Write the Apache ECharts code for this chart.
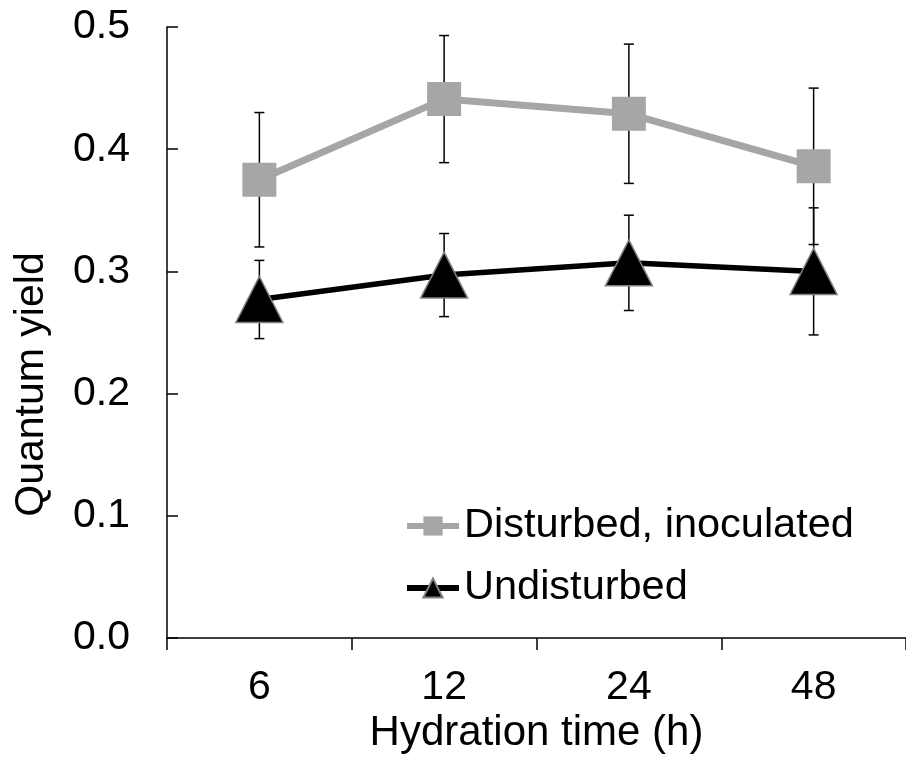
<!DOCTYPE html>
<html>
<head>
<meta charset="utf-8">
<script src="https://cdn.jsdelivr.net/npm/echarts@6/dist/echarts.min.js"></script>
<style>
html,body{margin:0;padding:0;background:#fff;}
#chart{width:906px;height:766px;}
</style>
</head>
<body>
<div id="chart"></div>
<script>
// Data
var categories = ['6', '12', '24', '48'];
var disturbedMean = [0.375, 0.441, 0.429, 0.386];
var disturbedErr = [0.055, 0.052, 0.057, 0.064];
var undisturbedMean = [0.277, 0.297, 0.307, 0.300];
var undisturbedErr = [0.032, 0.034, 0.039, 0.052];
var seriesNames = ['Disturbed, inoculated', 'Undisturbed'];
var yTicks = [0, 0.1, 0.2, 0.3, 0.4, 0.5];

var FONT = "'Liberation Sans', Arial, sans-serif";
var GRAY = '#a6a6a6';

function errData(mean, err) {
  return mean.map(function (m, i) { return [i, m - err[i], m + err[i]]; });
}

function errRender(params, api) {
  var x = api.value(0);
  var lo = api.coord([x, api.value(1)]);
  var hi = api.coord([x, api.value(2)]);
  var hw = 5;
  var style = { stroke: '#000', lineWidth: 1.5, fill: null };
  return {
    type: 'group',
    children: [
      { type: 'line', shape: { x1: hi[0], y1: hi[1], x2: lo[0], y2: lo[1] }, style: style },
      { type: 'line', shape: { x1: hi[0] - hw, y1: hi[1], x2: hi[0] + hw, y2: hi[1] }, style: style },
      { type: 'line', shape: { x1: lo[0] - hw, y1: lo[1], x2: lo[0] + hw, y2: lo[1] }, style: style }
    ]
  };
}

var chart = echarts.init(document.getElementById('chart'));
chart.setOption({
  animation: false,
  backgroundColor: '#fff',
  textStyle: { fontFamily: FONT },
  grid: { left: 167, right: -4, top: 27, bottom: 128, containLabel: false },
  legend: {
    orient: 'vertical',
    left: 404,
    top: 505,
    padding: 0,
    itemWidth: 52,
    itemHeight: 24,
    itemGap: 20,
    data: seriesNames,
    lineStyle: { width: 6 },
    textStyle: { fontFamily: FONT, fontSize: 41.5, color: '#000' }
  },
  xAxis: {
    type: 'category',
    data: categories,
    boundaryGap: true,
    name: 'Hydration time (h)',
    nameLocation: 'middle',
    nameGap: 55,
    nameTextStyle: { fontFamily: FONT, fontSize: 42, color: '#000' },
    axisLine: { lineStyle: { color: '#000', width: 1.5 } },
    axisTick: { show: true, inside: false, length: 12, alignWithLabel: false, lineStyle: { color: '#000', width: 1.5 } },
    axisLabel: { fontFamily: FONT, fontSize: 41, color: '#000', margin: 29 },
    splitLine: { show: false }
  },
  yAxis: {
    type: 'value',
    min: yTicks[0],
    max: yTicks[yTicks.length - 1],
    interval: 0.1,
    name: 'Quantum yield',
    nameLocation: 'middle',
    nameGap: 115,
    nameTextStyle: { fontFamily: FONT, fontSize: 41, color: '#000', padding: [0, 104, 0, 0] },
    axisLine: { show: true, lineStyle: { color: '#000', width: 1.5 } },
    axisTick: { show: true, inside: true, length: 11, lineStyle: { color: '#000', width: 1.5 } },
    axisLabel: {
      fontFamily: FONT, fontSize: 41, color: '#000', margin: 37,
      formatter: function (v) { return v.toFixed(1); }
    },
    splitLine: { show: false }
  },
  series: [
    {
      type: 'custom', name: 'errD', renderItem: errRender,
      data: errData(disturbedMean, disturbedErr), z: 1, silent: true
    },
    {
      type: 'custom', name: 'errU', renderItem: errRender,
      data: errData(undisturbedMean, undisturbedErr), z: 1, silent: true
    },
    {
      name: seriesNames[0],
      type: 'line',
      data: disturbedMean,
      z: 3,
      symbol: 'rect',
      symbolSize: 34,
      lineStyle: { color: GRAY, width: 7 },
      itemStyle: { color: GRAY, borderWidth: 0 }
    },
    {
      name: seriesNames[1],
      type: 'line',
      data: undisturbedMean,
      z: 4,
      symbol: 'triangle',
      symbolSize: [47, 46],
      lineStyle: { color: '#000', width: 5.5 },
      itemStyle: { color: '#000', borderColor: '#7f7f7f', borderWidth: 1.5 }
    }
  ]
});
</script>
</body>
</html>
